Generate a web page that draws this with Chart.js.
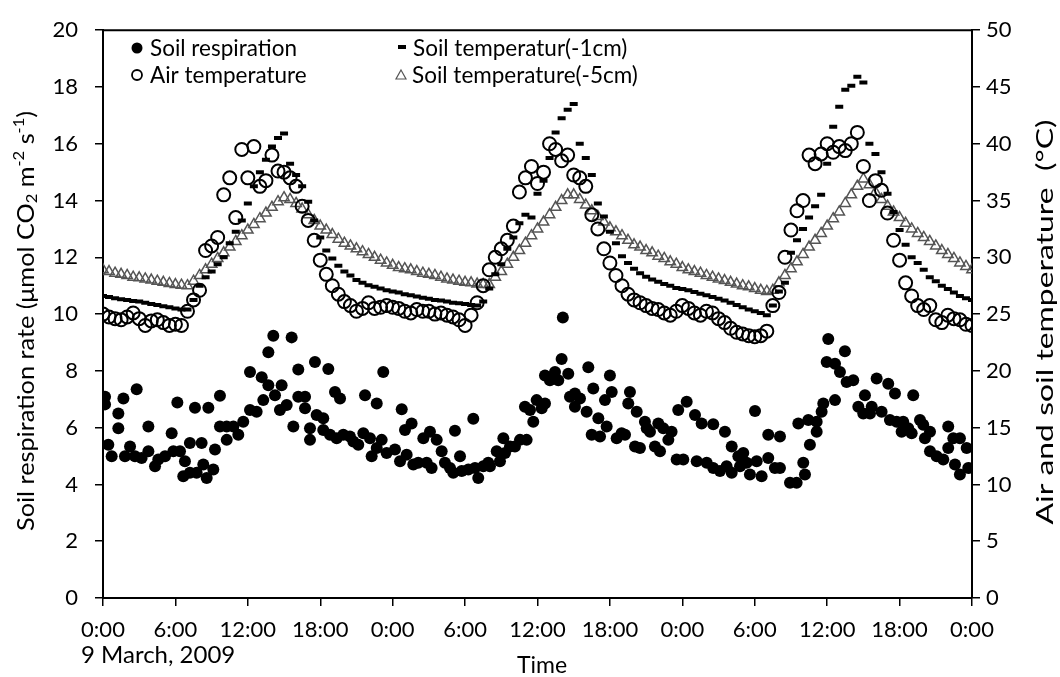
<!DOCTYPE html>
<html>
<head>
<meta charset="utf-8">
<script src="https://cdn.jsdelivr.net/npm/chart.js@4"></script>
<style>
  html, body { margin: 0; padding: 0; background: #fff; overflow: hidden; }
  #wrap { width: 1060px; height: 677px; }
</style>
</head>
<body>
<div id="wrap"><canvas id="grafico" width="1060" height="677"></canvas></div>
<script>
// Horas de medição (a cada 30 min, de 0 a 72 h)
const horas = [];
for (let i = 0; i <= 144; i++) horas.push(i / 2);

// Rótulos do eixo X
const rotulosX = ['0:00', '6:00', '12:00', '18:00', '0:00', '6:00', '12:00', '18:00', '0:00', '6:00', '12:00', '18:00', '0:00'];

// Temperatura do ar (°C)
const tempAr = [
  25.0, 24.75, 24.6, 24.5, 24.75, 25.1, 24.6, 24.0, 24.4, 24.5, 24.25, 24.0, 24.1, 24.0, 25.25,
  26.25, 27.1, 30.6, 31.0, 31.75, 35.5, 37.0, 33.5, 39.5, 37.0, 39.75, 36.25, 36.75, 39.0, 37.6, 37.5,
  37.0, 36.25, 34.5, 33.25, 31.5, 29.75, 28.5, 27.5, 26.75, 26.1, 25.75, 25.25, 25.5, 26.0, 25.5, 25.6, 25.75,
  25.6, 25.5, 25.25, 25.1, 25.4, 25.25, 25.25, 25.0, 25.1, 24.9, 24.75, 24.5, 24.0, 24.9, 26.0, 27.5, 28.9,
  30.0, 30.75, 31.5, 32.75, 35.75, 37.0, 38.0, 36.5, 37.5, 40.0, 39.5, 38.5, 39.0, 37.25,
  37.0, 36.25, 33.75, 32.5, 30.75, 29.5, 28.4, 27.5, 26.75, 26.25, 26.0, 25.75, 25.5, 25.4, 25.1, 24.9, 25.25,
  25.75, 25.5, 25.1, 24.9, 25.25, 25.1, 24.6, 24.25, 23.75, 23.4, 23.25, 23.1, 23.0, 23.1, 23.5, 25.75,
  26.9, 30.0, 32.4, 34.1, 35.0, 39.0, 38.25, 39.1, 40.0, 39.25, 39.75, 39.4, 40.0, 41.0, 38.0,
  35.0, 36.75, 35.9, 33.9, 31.5, 29.75, 27.75, 26.6, 25.75, 25.4, 25.75, 24.5, 24.25, 24.9, 24.6, 24.5, 24.1, 24.0
];

// Temperatura do solo a -1 cm (°C)
const tempSolo1 = [
  26.6, 26.5, 26.4, 26.3, 26.25, 26.15, 26.1, 26.0, 25.9, 25.8, 25.7, 25.6, 25.5, 25.4, 25.4,
  26.25, 27.5, 28.25, 28.75, 29.4, 30.0, 31.25, 32.25, 33.25, 34.75, 36.25, 37.5, 38.6, 39.75, 40.5, 40.9,
  38.25, 37.25, 36.25, 34.9, 33.25, 31.75, 30.6, 29.9, 29.25, 28.75, 28.4, 28.0, 27.75, 27.55, 27.4, 27.25, 27.1,
  27.0, 26.9, 26.75, 26.65, 26.55, 26.45, 26.35, 26.25, 26.2, 26.1, 26.0, 25.95, 25.9, 25.8, 25.75, 26.1, 27.25,
  28.5, 29.4, 30.75, 31.75, 33.0, 33.75, 33.5, 35.6, 36.75, 38.75, 41.0, 42.25, 43.0, 43.5,
  40.0, 38.75, 37.25, 34.75, 33.6, 32.25, 31.25, 30.1, 29.5, 29.0, 28.6, 28.3, 28.05, 27.85, 27.65, 27.5, 27.3,
  27.2, 27.1, 26.95, 26.8, 26.65, 26.5, 26.35, 26.2, 26.0, 25.8, 25.6, 25.4, 25.25, 25.1, 24.9, 25.75,
  27.0, 27.75, 30.4, 31.5, 32.5, 33.5, 34.5, 35.5, 38.25, 41.5, 43.25, 44.75, 45.1, 45.9, 45.4,
  40.0, 39.1, 37.5, 35.6, 34.0, 32.4, 31.1, 30.0, 29.5, 28.9, 28.25, 27.9, 27.5, 27.2, 26.9, 26.6, 26.4, 26.25
];

// Temperatura do solo a -5 cm (°C)
const tempSolo5 = [
  28.9, 28.75, 28.6, 28.5, 28.4, 28.25, 28.2, 28.1, 28.0, 27.9, 27.8, 27.7, 27.6, 27.55, 27.5,
  27.9, 28.4, 28.9, 29.4, 29.9, 30.4, 30.9, 31.4, 31.9, 32.4, 32.9, 33.4, 33.9, 34.4, 34.9, 35.25,
  35.1, 34.75, 34.25, 33.75, 33.25, 32.75, 32.4, 32.0, 31.6, 31.25, 31.0, 30.75, 30.5, 30.25, 30.0, 29.75, 29.5,
  29.3, 29.1, 29.0, 28.9, 28.75, 28.6, 28.5, 28.4, 28.25, 28.1, 28.0, 27.9, 27.8, 27.75, 27.65, 27.6, 27.6,
  28.25, 28.75, 29.4, 30.0, 30.6, 31.25, 31.9, 32.5, 33.1, 33.75, 34.4, 35.0, 35.5, 35.5,
  35.1, 34.6, 34.1, 33.6, 33.1, 32.6, 32.25, 31.9, 31.5, 31.1, 30.9, 30.6, 30.4, 30.1, 29.9, 29.6, 29.4,
  29.1, 28.9, 28.75, 28.6, 28.4, 28.25, 28.1, 27.95, 27.8, 27.65, 27.5, 27.4, 27.25, 27.1, 27.0, 27.1,
  27.75, 28.4, 29.0, 29.6, 30.25, 30.9, 31.5, 32.1, 32.75, 33.4, 34.0, 34.75, 35.5, 36.25, 36.9,
  36.4, 35.75, 35.1, 34.5, 34.0, 33.5, 33.0, 32.5, 32.1, 31.75, 31.4, 31.0, 30.6, 30.25, 29.9, 29.5, 29.2, 28.9
];

// Respiração do solo: hora da medição e taxa (μmol CO2 m-2 s-1)
const respHora = [
  0.17, 0.17, 0.44, 0.72, 1.27, 1.27, 1.69, 1.82, 2.24, 2.65, 2.79, 3.20, 3.76, 3.76, 4.31, 4.58, 5.14, 5.69, 5.83, 6.16,
  6.38, 6.79, 6.65, 7.20, 7.20, 7.62, 7.76, 8.17, 8.31, 8.59, 8.73, 9.14, 9.28, 9.69, 9.69, 10.25, 10.25, 10.80, 11.21, 11.62,
  12.18, 12.18, 12.73, 13.15, 13.28, 13.70, 13.70, 14.11, 14.25, 14.66, 14.80, 15.22, 15.63, 15.77, 16.18, 16.18, 16.74, 16.74, 17.15, 17.15,
  17.56, 17.70, 18.25, 18.25, 18.67, 18.81, 19.22, 19.36, 19.64, 19.91, 20.46, 20.74, 21.15, 21.57, 21.71, 22.12, 22.26, 22.68, 22.68, 23.09,
  23.22, 23.50,
  24.19, 24.75, 24.61, 25.02, 25.16, 25.57, 25.71, 26.12, 26.54, 26.82, 27.09, 27.23, 27.65, 28.06, 28.33, 28.75, 29.02, 29.16, 29.58, 29.72,
  30.27, 30.68, 30.82, 31.09, 31.51, 31.92, 32.06, 32.62, 32.89, 33.17, 33.31, 33.72, 34.13, 34.55, 34.96, 35.10, 35.38, 35.65, 35.93, 36.35,
  36.62, 36.62, 37.03, 37.45, 37.72, 38.00, 38.10, 38.55, 38.69, 39.10, 39.10, 39.52, 40.07, 40.21, 40.49, 40.62, 41.04, 41.18, 41.59, 41.73,
  42.00, 42.15, 42.56, 42.97, 43.25, 43.66, 43.52, 44.08, 44.22, 44.49, 44.90, 45.05, 45.32, 45.73, 46.15, 46.01, 46.42, 46.84, 47.11, 47.66,
  47.53, 48.08, 48.36,
  49.05, 49.60, 50.56, 51.53, 52.09, 52.64, 53.05, 54.02, 55.12, 56.09, 57.61, 58.44, 58.57, 59.13, 59.13, 59.54, 59.68, 60.09, 59.96, 60.65,
  60.65, 61.06, 61.47, 61.61, 62.16, 62.58, 63.13, 62.99, 63.55, 63.69, 64.10, 64.51, 65.06, 65.20, 65.62, 65.76, 66.17, 66.30, 66.72, 67.00,
  67.13, 67.69, 68.10, 67.96, 68.52, 68.52, 69.07, 69.62, 70.03, 70.03, 70.45, 70.59, 71.00, 71.00, 71.56, 71.69,
  49.19, 50.02, 50.56, 51.12, 51.67, 52.09, 52.78, 53.33, 53.60, 54.16, 54.57, 55.12, 55.67, 56.09, 56.92, 57.47, 58.02, 58.16
];
const respTaxa = [
  7.09, 6.82, 5.40, 4.99, 6.50, 5.98, 7.03, 4.99, 5.34, 4.99, 7.35, 4.93, 5.17, 6.04, 4.64, 4.88, 4.99, 5.80, 5.17, 6.89,
  5.17, 4.82, 4.29, 5.46, 4.41, 6.70, 4.41, 5.46, 4.70, 4.23, 6.70, 4.53, 5.23, 7.12, 6.04, 6.04, 5.57, 6.04, 5.75, 6.21,
  7.96, 6.62, 6.56, 7.78, 6.97, 7.49, 8.66, 9.24, 7.14, 6.62, 7.49, 6.80, 9.18, 6.04, 8.05, 7.09, 7.09, 6.68, 5.98, 5.57,
  8.31, 6.45, 6.33, 5.92, 8.07, 5.75, 7.26, 5.63, 7.03, 5.75, 5.69, 5.51, 5.40, 5.80, 7.14, 5.63, 4.99, 6.85, 5.28, 5.57,
  7.96, 5.11,
  5.23, 6.65, 4.82, 5.92, 5.05, 6.15, 4.70, 4.76, 5.63, 4.76, 5.86, 4.58, 5.57, 5.17, 4.76, 4.58, 4.41, 5.89, 4.99, 4.47,
  4.53, 6.31, 4.58, 4.23, 4.64, 4.76, 4.64, 5.17, 4.82, 5.63, 5.11, 5.34, 5.34, 5.57, 6.74, 5.57, 6.62, 6.21, 6.97, 6.68,
  6.85, 7.84, 7.67, 7.96, 7.67, 8.42, 9.88, 7.90, 7.09, 7.20, 6.74, 7.03, 6.56, 8.13, 5.75, 7.38, 6.33, 5.69, 6.97, 6.04,
  7.84, 7.26, 5.63, 5.80, 5.75, 7.26, 6.85, 5.34, 6.56, 5.28, 6.21, 5.98, 5.86, 5.34, 5.17, 6.15, 5.98, 5.57, 5.86, 6.62,
  4.88, 4.88, 6.91,
  6.45, 6.15, 6.12, 5.86, 5.34, 4.99, 5.11, 6.59, 5.75, 5.69, 6.15, 6.27, 5.40, 6.21, 5.86, 6.56, 6.85, 9.12, 8.31, 8.25,
  6.97, 7.96, 8.69, 7.61, 7.67, 6.74, 7.14, 6.50, 6.50, 6.74, 7.73, 6.56, 7.55, 6.27, 7.20, 6.21, 5.86, 6.21, 5.98, 5.80,
  7.14, 6.27, 5.63, 6.10, 5.86, 5.17, 4.99, 4.88, 6.04, 5.28, 5.63, 4.70, 5.63, 4.35, 5.28, 4.58,
  4.82, 4.76, 4.58, 4.47, 4.64, 4.41, 4.64, 4.76, 4.35, 4.82, 4.29, 4.93, 4.58, 4.58, 4.06, 4.06, 4.76, 4.35
];

const FONTE = 'Lato, "Open Sans", sans-serif';

function pontos(xs, ys) {
  return ys.map((v, i) => ({ x: xs[i], y: v }));
}

// Desenha um texto girado (-90°) esticado até ocupar "comprimento" pixels
function textoVertical(ctx, partes, cx, cy, comprimento) {
  let total = 0;
  partes.forEach(p => { ctx.font = p[2] + 'px ' + FONTE; total += ctx.measureText(p[0]).width; });
  const fator = Math.min(1.5, Math.max(0.8, comprimento / total));
  ctx.save();
  ctx.translate(cx, cy);
  ctx.rotate(-Math.PI / 2);
  ctx.scale(fator, 1);
  ctx.fillStyle = '#000';
  ctx.textAlign = 'left';
  ctx.textBaseline = 'middle';
  let px = -total / 2;
  partes.forEach(p => {
    ctx.font = p[2] + 'px ' + FONTE;
    ctx.fillText(p[0], px, p[1]);
    px += ctx.measureText(p[0]).width;
  });
  ctx.restore();
}

// Moldura superior, legenda e títulos dos eixos
const decoracao = {
  id: 'decoracao',
  afterDraw(chart) {
    const ctx = chart.ctx;
    const area = chart.chartArea;
    ctx.save();
    ctx.strokeStyle = '#000';
    ctx.lineWidth = 2;
    ctx.beginPath();
    ctx.moveTo(area.left - 1, area.top);
    ctx.lineTo(area.right + 1, area.top);
    ctx.stroke();

    // Legenda
    ctx.font = '22.5px ' + FONTE;
    ctx.fillStyle = '#000';
    ctx.textBaseline = 'middle';
    ctx.textAlign = 'left';
    ctx.beginPath(); ctx.arc(137, 48, 5.5, 0, Math.PI * 2); ctx.fill();
    ctx.fillText('Soil respiration', 150, 49);
    ctx.lineWidth = 1.8;
    ctx.beginPath(); ctx.arc(137, 75, 5, 0, Math.PI * 2); ctx.stroke();
    ctx.fillText('Air temperature', 150, 76);
    ctx.fillRect(398, 45, 8, 4);
    ctx.fillText('Soil temperatur(-1cm)', 413, 49);
    ctx.strokeStyle = '#555';
    ctx.lineWidth = 1.2;
    ctx.beginPath();
    ctx.moveTo(401, 70); ctx.lineTo(406, 79); ctx.lineTo(396, 79); ctx.closePath();
    ctx.stroke();
    ctx.fillText('Soil temperature(-5cm)', 412, 76);

    // Título do eixo esquerdo (com sub/sobrescritos)
    textoVertical(ctx, [
      ['Soil respiration rate (μmol CO', 0, 23],
      ['2', 5, 15],
      [' m', 0, 23],
      ['-2', -8, 15],
      [' s', 0, 23],
      ['-1', -8, 15],
      [')', 0, 23]
    ], 27, 321, 420);

    // Título do eixo direito
    textoVertical(ctx, [['Air and soil temperature  (°C)', 0, 23]], 1046, 322, 405);

    // Data e título do eixo X
    ctx.font = '24px ' + FONTE;
    ctx.fillStyle = '#000';
    ctx.textAlign = 'left';
    ctx.textBaseline = 'middle';
    ctx.fillText('9 March, 2009', 81, 655);
    ctx.font = '23px ' + FONTE;
    ctx.textAlign = 'center';
    ctx.fillText('Time', 542, 666);
    ctx.restore();
  }
};

const eixoComum = {
  grid: { drawOnChartArea: false, color: '#000', lineWidth: 1.5, tickLength: 8 },
  border: { color: '#000', width: 2 },
  ticks: { color: '#000', font: { family: FONTE, size: 22 } }
};

new Chart(document.getElementById('grafico'), {
  type: 'scatter',
  data: {
    datasets: [
      {
        label: 'Soil respiration',
        data: pontos(respHora, respTaxa),
        yAxisID: 'y',
        pointStyle: 'circle',
        pointRadius: 6,
        backgroundColor: '#000',
        borderColor: '#000',
        borderWidth: 0
      },
      {
        label: 'Soil temperatur(-1cm)',
        data: pontos(horas, tempSolo1),
        yAxisID: 'y2',
        pointStyle: 'line',
        pointRadius: 4,
        borderColor: '#000',
        borderWidth: 4
      },
      {
        label: 'Air temperature',
        data: pontos(horas, tempAr),
        yAxisID: 'y2',
        pointStyle: 'circle',
        pointRadius: 6.5,
        backgroundColor: 'rgba(255,255,255,0)',
        borderColor: '#000',
        borderWidth: 2
      },
      {
        label: 'Soil temperature(-5cm)',
        data: pontos(horas, tempSolo5),
        yAxisID: 'y2',
        pointStyle: 'triangle',
        pointRadius: 6,
        backgroundColor: 'rgba(255,255,255,0)',
        borderColor: '#555',
        borderWidth: 1.5
      }
    ]
  },
  options: {
    responsive: false,
    animation: false,
    devicePixelRatio: 1,
    layout: { padding: { top: 25, left: 0, right: 0, bottom: 0 } },
    plugins: { legend: { display: false }, tooltip: { enabled: false } },
    scales: {
      x: {
        ...eixoComum,
        type: 'linear',
        min: 0,
        max: 72,
        ticks: {
          ...eixoComum.ticks,
          stepSize: 6,
          padding: 11,
          maxRotation: 0,
          callback: (v) => rotulosX[Math.round(v / 6)]
        },
        afterFit: (s) => { s.height = 79; }
      },
      y: {
        ...eixoComum,
        position: 'left',
        min: 0,
        max: 20,
        ticks: { ...eixoComum.ticks, stepSize: 2, padding: 17 },
        afterFit: (s) => { s.width = 103; }
      },
      y2: {
        ...eixoComum,
        position: 'right',
        min: 0,
        max: 50,
        ticks: { ...eixoComum.ticks, stepSize: 5, padding: 6 },
        afterFit: (s) => { s.width = 88; }
      }
    }
  },
  plugins: [decoracao]
});
</script>
</body>
</html>
